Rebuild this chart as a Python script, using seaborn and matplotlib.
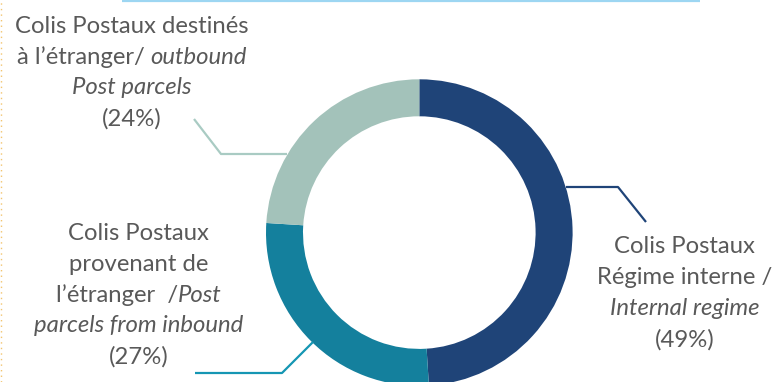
import matplotlib
matplotlib.use("Agg")
import matplotlib.pyplot as plt
import seaborn as sns

# ---- data ----
categories = ["Colis Postaux Régime interne / Internal regime",
              "Colis Postaux provenant de l'étranger / Post parcels from inbound",
              "Colis Postaux destinés à l'étranger / outbound Post parcels"]
shares = [49, 27, 24]
colors = ["#1F4478", "#14809D", "#A3C2BA"]
line_colors = ["#1F4478", "#1596B3", "#A9CBC3"]

# label lines: list of segments (text, italic?)
label_internal = [[("Colis Postaux", False)],
                  [("Régime interne /", False)],
                  [("Internal regime", True)],
                  [("(49%)", False)]]
label_inbound = [[("Colis Postaux", False)],
                 [("provenant de", False)],
                 [("l’étranger  /", False), ("Post", True)],
                 [("parcels from inbound", True)],
                 [("(27%)", False)]]
label_outbound = [[("Colis Postaux destinés", False)],
                  [("à l’étranger/ ", False), ("outbound", True)],
                  [("Post parcels", True)],
                  [("(24%)", False)]]

W, H = 777, 382
sns.set_theme(style="white")
plt.rcParams["font.family"] = ["Lato", "DejaVu Sans"]

fig = plt.figure(figsize=(W / 100, H / 100), dpi=100)
ax = fig.add_axes([0, 0, 1, 1])


def Y(y):
    return H - y


R = 153.3
ax.pie(shares, colors=sns.color_palette(colors), startangle=90, counterclock=False,
       center=(419.3, Y(232.6)), radius=R,
       wedgeprops=dict(width=37.0, edgecolor="none", linewidth=0))
ax.set_xlim(0, W)
ax.set_ylim(0, H)
ax.set_aspect("auto")
ax.axis("off")

TEXT_COLOR = "#595959"
FS = 17.2
renderer = fig.canvas.get_renderer()


def draw_label(lines, cx, baseline0, spacing):
    for i, segs in enumerate(lines):
        yb = Y(baseline0 + i * spacing)
        objs = []
        for txt, it in segs:
            t = ax.text(0, yb, txt, fontsize=FS, color=TEXT_COLOR,
                        style="italic" if it else "normal",
                        ha="left", va="baseline")
            objs.append(t)
        widths = [o.get_window_extent(renderer).width for o in objs]
        x = cx - sum(widths) / 2
        for o, w in zip(objs, widths):
            o.set_x(x)
            x += w


draw_label(label_outbound, 132, 33, 30.7)
draw_label(label_inbound, 138.5, 240, 30.8)
draw_label(label_internal, 684.5, 253, 31.2)

# leader lines
leaders = [
    [(566, 187), (618, 187), (646, 222)],
    [(313, 342), (282, 373), (195, 373)],
    [(287, 154), (221, 154), (194, 119)],
]
for pts, c in zip(leaders, line_colors):
    ax.plot([p[0] for p in pts], [Y(p[1]) for p in pts], color=c, lw=1.6,
            solid_capstyle="butt")

# decorative frame elements
ax.plot([122, 700], [Y(0.7), Y(0.7)], color="#9DD6F2", lw=1.6, solid_capstyle="butt")
ax.plot([1.2, 1.2], [0, H], color="#F2C46E", lw=1.0, linestyle=(0, (1, 3)))

fig.savefig("out.png", dpi=100)
